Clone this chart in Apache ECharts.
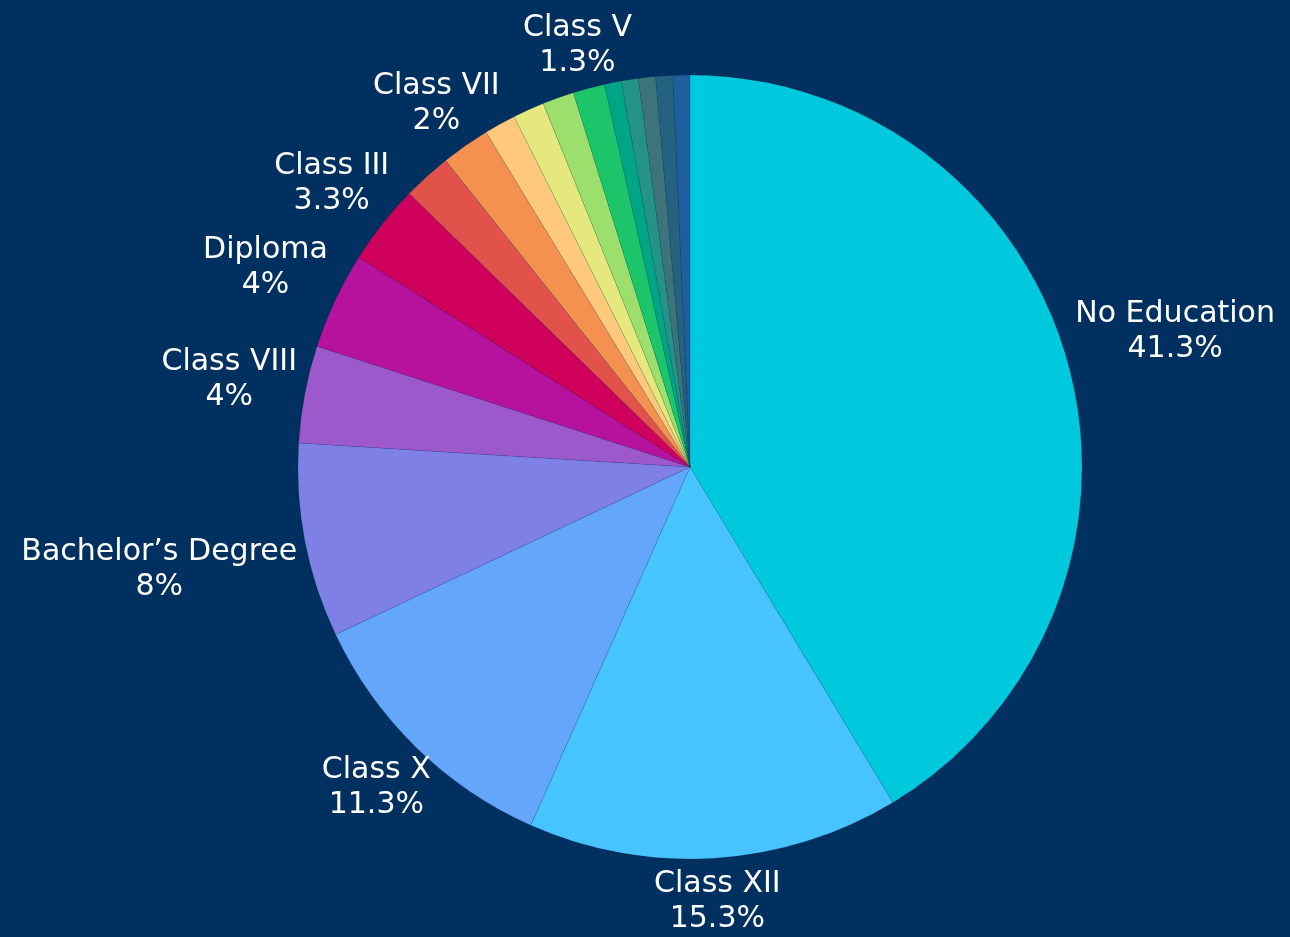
<!DOCTYPE html>
<html>
<head>
<meta charset="utf-8">
<title>Education</title>
<script src="https://cdn.jsdelivr.net/npm/echarts@6/dist/echarts.min.js"></script>
<style>
    html, body { margin: 0; padding: 0; background: #003060; }
    #chart0 { width: 1290px; height: 937px; }
</style>
</head>
<body>
<div id="chart0"></div>
<script>
// data (percent)
var names = ["No Education", "Class XII", "Class X", "Bachelor’s Degree", "Class VIII", "Diploma", "Class III",
    "Class IX", "Class VII", "Class VI", "Class IV", "Class XI", "Class V",
    "Class II", "Class I", "Master’s Degree", "ITI", "Doctorate"];
var values = [41.3, 15.3, 11.3, 8, 4, 4, 3.3,
    2, 2, 1.3, 1.3, 1.3, 1.3,
    0.7, 0.7, 0.7, 0.7, 0.7];
var colors = ["#00c9dd", "#47c3fd", "#64a6f9", "#7e80e5", "#9b59cb", "#b7129e", "#cf005c",
    "#e0524a", "#f59150", "#fec97a", "#e5e87c", "#9cdf6c", "#1cc46a",
    "#00a585", "#249287", "#3d7479", "#24627f", "#1e5e9c"];
// labels that are not drawn in the picture (too small)
var hiddenLabels = ["Class IX", "Class VI", "Class IV", "Class XI", "Class II", "Class I", "Master’s Degree", "ITI", "Doctorate"];

var cx = 690, cy = 467, R = 392, gap = 8;

var total = 0;
for (var i = 0; i < values.length; i++) total += values[i];

// middle angle of a slice, clockwise from 12 o'clock
function midAngle(idx) {
    var before = 0;
    for (var j = 0; j < idx; j++) before += values[j];
    return (before + values[idx] / 2) / total * Math.PI * 2;
}

var pieData = [];
for (var i = 0; i < names.length; i++) {
    var item = { name: names[i], value: values[i], itemStyle: { color: colors[i] } };
    if (hiddenLabels.indexOf(names[i]) >= 0) item.label = { show: false };
    pieData.push(item);
}

var myChart0 = echarts.init(document.getElementById('chart0'));
var option = {
    backgroundColor: '#003060',
    animation: false,
    series: [{
        type: 'pie',
        center: [cx, cy],
        radius: R,
        startAngle: 90,
        clockwise: true,
        avoidLabelOverlap: false,
        itemStyle: { borderColor: 'rgba(0,30,60,0.2)', borderWidth: 0.5 },
        label: {
            show: true,
            position: 'outside',
            color: '#ffffff',
            fontFamily: 'DejaVu Sans',
            fontSize: 30,
            lineHeight: 35,
            formatter: function (p) { return p.name + '\n' + p.value + '%'; }
        },
        labelLine: { show: false },
        // put each label just outside the rim, on the slice's middle ray
        labelLayout: function (params) {
            var a = midAngle(params.dataIndex);
            var s = Math.sin(a), c = Math.cos(a);
            var w = params.labelRect.width / 2, h = params.labelRect.height / 2;
            var t = Math.min(Math.abs(s) > 1e-6 ? w / Math.abs(s) : 1e9, Math.abs(c) > 1e-6 ? h / Math.abs(c) : 1e9);
            var d = R + gap + t;
            return { x: cx + d * s, y: cy - d * c, align: 'center', verticalAlign: 'middle' };
        },
        data: pieData
    }]
};
myChart0.setOption(option, true);
</script>
</body>
</html>
